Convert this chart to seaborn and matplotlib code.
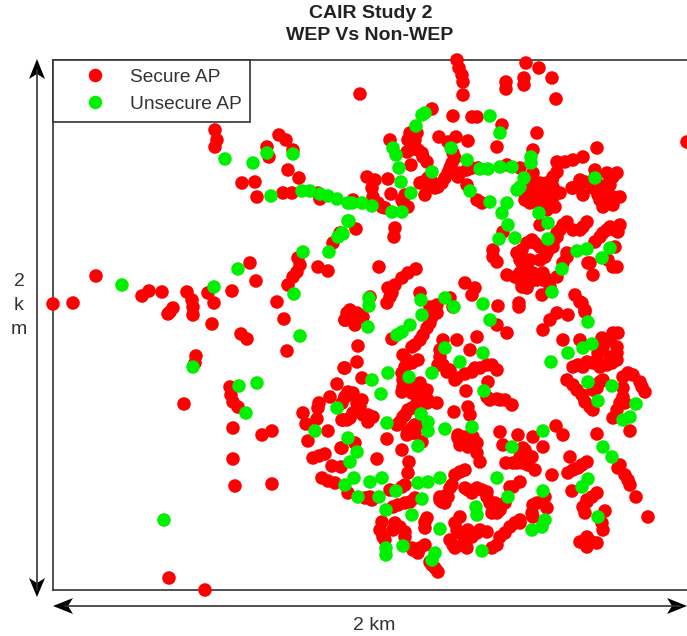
import matplotlib
matplotlib.use('Agg')
import matplotlib.pyplot as plt
import pandas as pd
import seaborn as sns

# positions, in map units (about 317 units per km, y grows downwards)
secure_ap = [
    (215,130),(217,140),(215,147),(267,147),(269,157),(279,135),(286,140),(293,150),(288,170),(299,178),
    (242,183),(255,182),(257,197),(283,193),(292,193),(318,193),(320,199),(333,243),(340,233),(298,258),
    (300,265),(297,272),(293,277),(288,285),(250,263),(256,281),(232,291),(318,267),(328,271),(96,276),
    (142,296),(149,291),(162,292),(187,292),(192,300),(193,307),(193,315),(170,312),(173,308),(168,314),
    (208,293),(214,303),(53,304),(73,303),(277,302),(212,324),(284,319),(287,351),(241,334),(247,339),
    (196,356),(195,363),(184,404),(230,387),(231,395),(233,402),(238,407),(233,428),(262,435),(272,431),
    (233,459),(235,486),(272,484),(169,578),(205,590),(344,368),(337,384),(330,397),(345,397),(319,403),
    (318,408),(303,413),(317,419),(306,424),(328,431),(343,420),(308,441),(341,448),(313,458),(319,456),
    (325,454),(332,466),(341,467),(322,478),(328,481),(335,483),(348,493),(345,320),
    (360,94),(457,60),(459,68),(462,75),(463,82),(463,95),(526,63),(539,68),(552,78),(524,78),
    (524,85),(506,82),(506,89),(556,99),(432,109),(453,116),(472,117),(477,117),(502,125),(537,133),
    (468,141),(497,147),(597,148),(687,142),(439,137),(448,142),(456,137),(390,140),(410,133),(415,140),
    (410,150),(418,150),(423,157),(427,162),(411,165),(453,153),(452,163),(448,173),(442,183),(435,188),
    (428,187),(425,195),(423,182),(458,177),(467,170),(478,168),(520,168),(507,165),(533,150),(533,173),
    (367,177),(375,180),(388,179),(372,188),(373,197),(391,194),(382,207),(403,202),(353,200),(395,228),
    (394,237),(356,229),(467,185),(477,200),(482,203),(557,162),(565,162),(573,160),(583,157),(557,172),
    (552,180),(543,185),(537,190),(547,190),(557,193),(527,188),(528,200),(540,197),(550,197),(555,207),
    (547,210),(525,193),(573,188),(580,180),(583,195),(595,170),(607,173),(617,173),(597,183),(610,185),
    (598,195),(620,197),(607,202),(613,205),(603,207),(567,222),(560,230),(540,225),(587,222),(580,230),
    (610,227),(620,225),(618,232),(603,233),(595,242),(615,247),(557,237),(553,247),(503,232),(493,250),
    (497,262),(532,240),(540,247),(522,250),(520,260),(545,257),(530,260),(567,257),(563,263),(507,275),
    (520,273),(530,273),(543,273),(522,287),(530,282),(548,280),(542,295),(557,277),(590,263),(593,275),
    (613,267),(379,267),(416,269),(408,273),(402,278),(395,285),(392,293),(387,303),(465,283),(475,288),
    (472,295),(498,306),(519,303),(519,307),(575,295),(582,303),(585,310),(420,293),(430,307),(437,313),
    (450,298),(370,297),(350,310),(360,315),
    (350,312),(345,320),(355,325),(358,346),(357,362),(345,368),(362,378),(433,310),(430,323),(423,335),
    (415,345),(392,339),(403,355),(418,360),(405,367),(403,380),(402,392),(415,387),(427,390),(420,398),
    (437,403),(412,408),(403,417),(397,425),(427,403),(443,340),(457,340),(477,337),(470,350),(440,357),
    (438,365),(450,370),(455,380),(465,374),(475,368),(487,365),(497,370),(466,391),(488,382),(497,399),
    (505,400),(512,405),(454,412),(468,407),(470,415),(453,307),(497,325),(507,333),(543,330),(550,320),
    (557,313),(568,315),(580,302),(585,312),(563,340),(580,340),(618,333),(607,340),(617,347),(598,353),
    (617,360),(578,365),(593,363),(607,365),(567,380),(577,390),(585,402),(593,410),(597,388),(603,380),
    (628,373),(640,382),(645,392),(623,388),(620,403),(613,418),(630,431),(597,434),(620,465),(625,475),
    (630,485),(636,497),(648,517),(570,457),(587,462),(578,468),(568,473),(572,491),(597,493),(587,502),
    (585,513),(605,511),(603,530),(580,542),(587,537),(597,543),(587,547),(556,426),(563,435),(500,432),
    (518,435),(533,437),(543,447),(503,445),(525,450),(527,457),(506,463),(517,463),(528,465),(535,470),
    (552,475),(458,435),(460,445),(472,442),(477,453),(480,462),(368,422),(353,413),(345,397),(353,393),
    (360,407),(373,417),(347,420),(387,439),(377,459),(402,450),(409,462),(408,473),(413,433),(407,435),
    (422,442),(355,443),(342,448),(465,470),(455,475),(405,485),(365,498),(372,500),(398,505),(410,502),
    (450,488),(440,500),(445,503),(447,495),(465,488),(477,488),(487,492),(490,503),(500,510),(492,513),
    (510,487),(520,482),(505,503),(533,505),(533,517),(547,508),(545,497),(382,522),(383,537),(395,523),
    (405,532),(427,518),(425,528),(420,548),(425,545),(412,548),(460,517),(457,530),(453,545),(467,548),
    (465,537),(477,533),(487,532),(497,545),(505,533),(515,523),(520,520),(432,565),(438,572),
    # second pass over the dense blobs
    (455,158),(450,168),(445,178),(438,187),(432,182),(420,183),(428,178),(413,145),(407,152),(422,153),
    (417,133),(408,140),(460,173),(472,168),(378,203),(385,208),(408,207),(405,195),(402,200),(547,183),
    (540,183),(533,183),(553,187),(532,195),(543,192),(553,197),(560,193),(525,200),(550,203),(553,177),
    (540,203),(530,203),(572,188),(578,187),(585,182),(595,177),(602,187),(593,188),(600,193),(607,193),
    (613,197),(605,200),(600,200),(613,177),(610,180),(563,225),(557,233),(553,243),(547,253),(540,260),
    (535,243),(527,243),(517,253),(522,263),(527,267),(523,273),(515,277),(533,273),(527,280),(537,280),
    (543,280),(550,287),(522,283),(527,288),(567,253),(493,257),(573,230),(583,227),(600,237),(607,230),
    (615,230),(588,263),(608,260),(617,267),(388,288),(390,297),(357,313),(363,317),(347,313),(350,320),
    (437,305),(432,317),(427,328),(420,340),(412,347),(407,360),(412,363),(402,373),(403,387),(408,388),
    (420,383),(412,393),(420,393),(428,400),(417,403),(408,410),(400,422),(405,415),(415,425),(408,432),
    (348,392),(342,403),(357,403),(363,415),(368,415),(350,418),(362,400),(342,420),(457,378),(472,372),
    (480,368),(492,365),(447,372),(440,350),(443,365),(490,400),(500,400),(487,397),(470,440),(465,442),
    (477,443),(523,448),(520,457),(513,463),(523,463),(532,457),(613,333),(610,340),(602,338),(603,347),
    (617,353),(610,357),(597,360),(587,362),(573,367),(583,367),(600,367),(612,363),(573,385),(582,395),
    (590,407),(600,382),(593,390),(623,377),(633,375),(642,387),(623,397),(617,410),(625,403),(618,468),
    (628,480),(573,470),(582,465),(468,490),(472,493),(482,490),(487,497),(495,503),(497,513),(513,487),
    (440,497),(448,497),(442,502),(452,485),(393,507),(405,503),(415,498),(390,490),(370,497),(402,487),
    (460,472),(380,530),(385,540),(393,530),(400,527),(405,537),(413,550),(418,553),(425,522),(455,523),
    (450,540),(455,548),(460,533),(462,545),(472,537),(480,530),(468,530),(492,548),(500,537),(510,527),
    (520,523),(430,562),(435,568),(592,542),(532,513),(537,503),(415,433),(412,428),(417,425),(458,438),
    (465,437),(468,447),(473,437),(587,500),(592,497),(583,507),(602,523),
]
unsecure_ap = [
    (164,520),(193,367),(239,386),(257,383),(246,413),(300,336),(225,159),(253,163),(267,153),(293,154),
    (271,196),(302,191),(310,191),(320,194),(328,196),(337,199),(348,203),(348,221),(342,233),(338,237),
    (329,252),(303,252),(238,269),(214,287),(122,285),(294,294),(337,408),(315,431),(348,438),(350,462),
    (345,485),(422,115),(425,113),(416,126),(490,116),(500,133),(451,148),(393,148),(396,155),(399,168),
    (401,182),(411,193),(432,172),(467,160),(480,169),(488,169),(500,167),(512,167),(531,157),(531,163),
    (524,178),(520,187),(517,190),(470,191),(490,202),(507,203),(502,213),(352,203),(362,203),(372,206),
    (392,212),(402,212),(349,221),(343,234),(508,225),(515,238),(499,239),(539,213),(548,223),(548,239),
    (595,178),(577,251),(587,249),(610,248),(602,258),(562,269),(552,292),(483,304),(369,298),(369,306),
    (421,300),(445,298),(454,307),(422,315),(490,320),(368,327),(410,325),(402,332),(397,335),(588,322),
    (445,348),(483,353),(460,362),(432,373),(388,373),(372,380),(381,394),(409,377),(484,391),(551,362),
    (568,353),(583,348),(592,344),(588,382),(612,386),(598,401),(636,404),(630,417),(623,420),(421,414),
    (428,422),(428,431),(445,429),(472,427),(387,423),(357,452),(418,446),(512,447),(543,431),(603,447),
    (612,457),(497,478),(543,491),(508,497),(588,479),(582,487),(354,478),(370,482),(382,478),(358,497),
    (379,497),(396,491),(418,483),(428,482),(440,478),(422,499),(386,510),(412,515),(476,507),(477,515),
    (545,520),(542,527),(532,530),(598,517),(440,529),(403,546),(386,548),(386,555),(435,553),(432,560),
    (482,551),
]
series_names = ['Secure AP', 'Unsecure AP']
series_colors = ['#ff0000', '#00f000']

df = pd.concat([
    pd.DataFrame(secure_ap, columns=['x', 'y']).assign(kind=series_names[0]),
    pd.DataFrame(unsecure_ap, columns=['x', 'y']).assign(kind=series_names[1]),
], ignore_index=True)

sns.set_style('white')
plt.rcParams['font.family'] = ['Liberation Sans', 'DejaVu Sans']

fig = plt.figure(figsize=(6.87, 6.36), dpi=100)
ax = fig.add_axes([53 / 687, 46 / 636, 634 / 687, 530 / 636])

sns.scatterplot(data=df, x='x', y='y', hue='kind', hue_order=series_names, palette=series_colors,
                s=95, linewidth=0, clip_on=False, zorder=3, ax=ax)

ax.set_xlim(53, 687)
ax.set_ylim(590, 60)
ax.set_xticks([])
ax.set_yticks([])
ax.set_xlabel('')
ax.set_ylabel('')
ax.spines['right'].set_visible(False)
for side in ['left', 'top', 'bottom']:
    ax.spines[side].set_linewidth(1.2)
    ax.spines[side].set_color('#333333')

sns.move_legend(ax, 'upper left', bbox_to_anchor=(0, 1), title=None, frameon=True, fancybox=False,
                framealpha=1, edgecolor='#333333', borderaxespad=0, fontsize=13.8, labelspacing=0.5,
                handlelength=3.5, handletextpad=0.07, borderpad=0.45)
ax.get_legend().get_frame().set_linewidth(1.2)
for label in ax.get_legend().get_texts():
    label.set_color('#333333')
for handle in ax.get_legend().legend_handles:
    handle.set_markersize(9.7)

fig.text(371 / 687, 1 - 13 / 636, 'CAIR Study 2', ha='center', va='center', fontsize=14, fontweight='bold',
         color='#222222')
fig.text(370 / 687, 1 - 36 / 636, 'WEP Vs Non-WEP', ha='center', va='center', fontsize=14, fontweight='bold',
         color='#222222')
for label, py in zip(['2', 'k', 'm'], [281, 305, 329]):
    fig.text(19 / 687, 1 - py / 636, label, ha='center', va='center', fontsize=14, color='#333333')
fig.text(374 / 687, 1 - 625 / 636, '2 km', ha='center', va='center', fontsize=14, color='#333333')


def px(x, y):
    return x / 687, 1 - y / 636


# double arrows with notched heads
fig.add_artist(plt.Line2D(*zip(px(37, 70), px(37, 590)), color='#333333', lw=1.2))
fig.add_artist(plt.Line2D(*zip(px(65, 606), px(680, 606)), color='#333333', lw=1.2))
heads = [
    [(37, 59), (29, 79), (37, 74), (45, 79)],
    [(37, 597), (29, 578), (37, 583), (45, 578)],
    [(53, 606), (73, 598), (68, 606), (73, 614)],
    [(687, 606), (667, 598), (672, 606), (667, 614)],
]
for head in heads:
    fig.add_artist(plt.Polygon([px(*p) for p in head], closed=True, color='black', lw=0,
                               transform=fig.transFigure))

fig.savefig('out.png', dpi=100)
